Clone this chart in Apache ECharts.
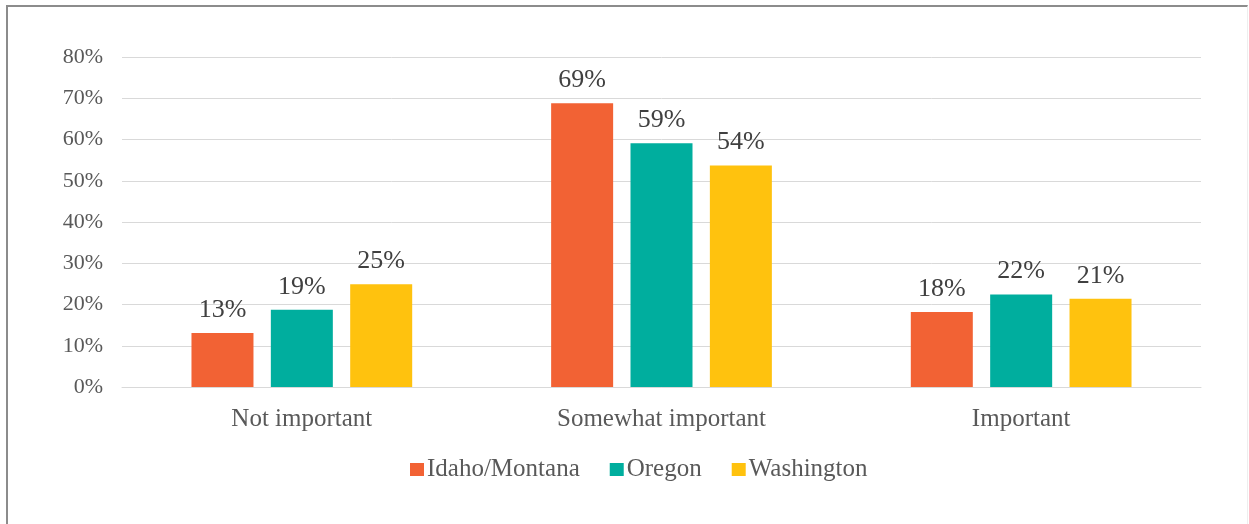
<!DOCTYPE html>
<html><head><meta charset="utf-8">
<script src="https://cdn.jsdelivr.net/npm/echarts@6/dist/echarts.min.js"></script>
<style>
html,body{margin:0;padding:0;background:#fff;overflow:hidden;}
#frame{position:absolute;left:6px;top:5px;width:1242px;height:530px;border-left:2px solid #8c8c8c;border-top:2px solid #8c8c8c;border-right:1px solid #eeeeee;box-sizing:border-box;}
#c{position:absolute;left:0;top:0;width:1249px;height:524px;}
</style></head>
<body>
<div id="frame"></div>
<div id="c"></div>
<script>
const categories = ['Not important', 'Somewhat important', 'Important'];
const seriesNames = ['Idaho/Montana', 'Oregon', 'Washington'];
const idahoMontana = [13.1, 68.8, 18.2];
const oregon = [18.7, 59.1, 22.4];
const washington = [24.9, 53.7, 21.4];
const colors = ['#F26234', '#00AE9E', '#FFC20E'];

const font = 'Liberation Serif';
const chart = echarts.init(document.getElementById('c'));
const values = [idahoMontana, oregon, washington];
chart.setOption({
  animation: false,
  grid: {left: 122, right: 48, top: 57, bottom: 137},
  legend: {
    data: seriesNames, bottom: 37, left: 405,
    itemWidth: 14, itemHeight: 13, itemGap: 30,
    icon: 'rect',
    textStyle: {fontFamily: font, fontSize: 25, color: '#595959', padding: [0,0,0,-2]}
  },
  xAxis: {
    type: 'category', data: categories,
    axisLine: {lineStyle: {color: '#D9D9D9', width: 1}},
    axisTick: {show: false},
    axisLabel: {fontFamily: font, fontSize: 25, color: '#595959', margin: 20}
  },
  yAxis: {
    type: 'value', min: 0, max: 80, interval: 10,
    axisLabel: {formatter: '{value}%', fontFamily: font, fontSize: 22, color: '#595959', margin: 19},
    axisLine: {show: false}, axisTick: {show: false},
    splitLine: {lineStyle: {color: '#D9D9D9', width: 1}}
  },
  series: seriesNames.map((n, i) => ({
    name: n, type: 'bar', data: values[i],
    barWidth: 62, barGap: '28%',
    itemStyle: {color: colors[i]},
    label: {show: true, position: 'top', distance: 10,
      formatter: p => Math.round(p.value) + '%',
      fontFamily: font, fontSize: 26, color: '#404040'}
  }))
});
</script>
</body></html>
